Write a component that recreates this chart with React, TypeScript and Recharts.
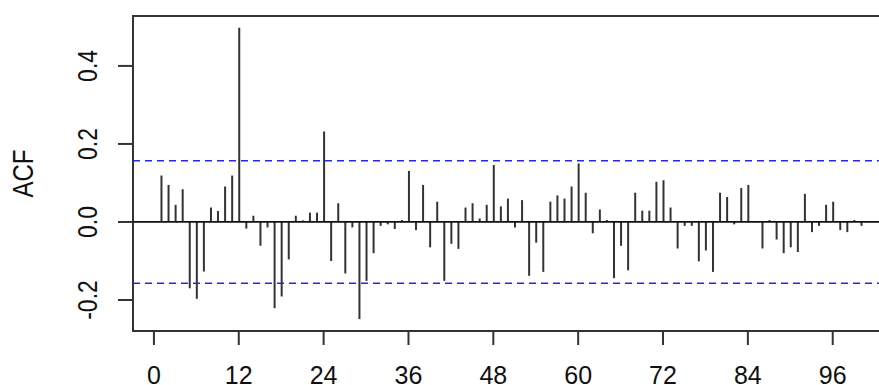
import React from 'react';
import {ComposedChart, Bar, XAxis, YAxis, ReferenceLine, ReferenceArea} from 'recharts';

// lags 1..100, sample autocorrelations
const lags = Array.from({length: 100}, (_, i) => i + 1);
const acfValues = [
    0.119, 0.095, 0.044, 0.084, -0.170, -0.197, -0.127, 0.037, 0.028, 0.091,
    0.119, 0.498, -0.017, 0.016, -0.061, -0.014, -0.221, -0.191, -0.096, 0.016,
    0.004, 0.024, 0.024, 0.232, -0.100, 0.048, -0.132, -0.014, -0.249, -0.151,
    -0.080, -0.010, -0.006, -0.018, 0.005, 0.131, -0.021, 0.095, -0.065, 0.052,
    -0.151, -0.056, -0.069, 0.037, 0.048, 0.009, 0.044, 0.146, 0.040, 0.060,
    -0.014, 0.056, -0.138, -0.053, -0.128, 0.052, 0.068, 0.060, 0.091, 0.150,
    0.075, -0.029, 0.032, 0.005, -0.144, -0.061, -0.124, 0.075, 0.029, 0.029,
    0.103, 0.107, 0.037, -0.068, -0.010, -0.010, -0.101, -0.073, -0.128, 0.075,
    0.064, -0.006, 0.087, 0.095, 0.000, -0.068, 0.005, -0.045, -0.080, -0.065,
    -0.077, 0.072, -0.026, -0.010, 0.044, 0.052, -0.021, -0.026, 0.005, -0.010,
];
const xTicks = [0, 12, 24, 36, 48, 60, 72, 84, 96];
const yTicks = [-0.2, 0.0, 0.2, 0.4];
const ciBound = 0.157;

const xDomain: [number, number] = [-2.96, 103.96];
const yDomain: [number, number] = [-0.2795, 0.528];

const data = lags.map((lag, i) => ({lag, acf: acfValues[i]}));

const FONT = '"Liberation Sans", Arial, sans-serif';

const YTick = (props: any) => {
    const {x, y, payload} = props;
    return (
        <text transform={`translate(${x}, ${y}) scale(1.2, 1) rotate(-90)`} textAnchor="middle"
              fontSize={23} fontFamily={FONT} fill="#111">
            {Number(payload.value).toFixed(1)}
        </text>
    );
};

const AcfLabel = (props: any) => {
    const vb = props.viewBox;
    const cy = vb.y + vb.height / 2;
    return (
        <text transform={`translate(33, ${cy}) scale(1.2, 1) rotate(-90)`} textAnchor="middle"
              fontSize={24} fontFamily={FONT} fill="#111">
            ACF
        </text>
    );
};

export default function App() {
    return (
        <div style={{position: 'absolute', left: 0, top: 0, width: 879, height: 385, overflow: 'hidden', background: '#fff'}}>
            <ComposedChart width={900} height={385} data={data}
                           margin={{top: 16, right: 11, left: 0, bottom: 0}}>
                <XAxis dataKey="lag" type="number" domain={xDomain} ticks={xTicks} allowDataOverflow
                       axisLine={false} tickSize={14} tickMargin={21} height={54} interval={0}
                       tickLine={{stroke: '#333', strokeWidth: 2}}
                       tick={{fontSize: 25, fontFamily: FONT, fill: '#111'}}/>
                <YAxis type="number" domain={yDomain} ticks={yTicks} allowDataOverflow width={133}
                       axisLine={false} tickSize={15} tickMargin={21} interval={0}
                       tickLine={{stroke: '#333', strokeWidth: 2}} tick={<YTick/>}
                       label={<AcfLabel/>}/>
                <ReferenceLine y={ciBound} stroke="#2626f0" strokeWidth={1.6} strokeDasharray="7 5"/>
                <ReferenceLine y={-ciBound} stroke="#2626f0" strokeWidth={1.6} strokeDasharray="7 5"/>
                <ReferenceLine y={0} stroke="#111" strokeWidth={1.8}/>
                <Bar dataKey="acf" fill="#333" barSize={2} isAnimationActive={false}/>
                <ReferenceArea x1={xDomain[0]} x2={xDomain[1]} y1={yDomain[0]} y2={yDomain[1]}
                               fill="none" fillOpacity={0} stroke="#333" strokeWidth={2}/>
            </ComposedChart>
        </div>
    );
}
